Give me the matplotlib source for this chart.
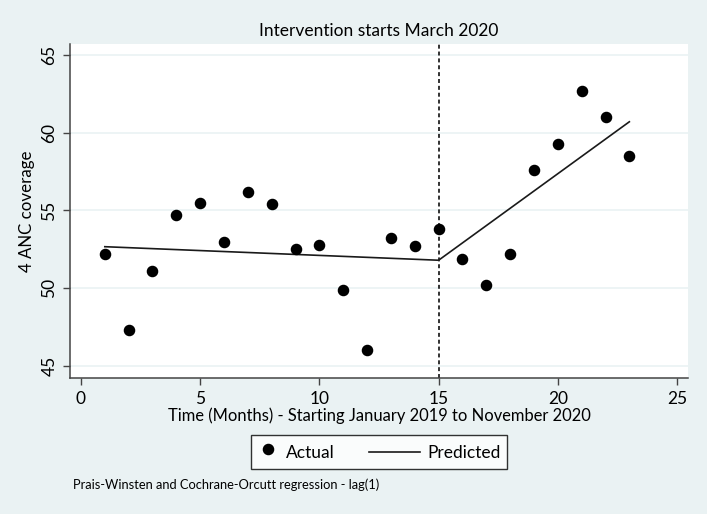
import matplotlib.pyplot as plt
from matplotlib.lines import Line2D
from matplotlib.legend_handler import HandlerLine2D

plt.rcParams['font.family'] = ['Lato', 'DejaVu Sans']

# Actual monthly values (Jan 2019 - Nov 2020)
months = list(range(1, 24))
actual = [52.2, 47.3, 51.1, 54.7, 55.5, 53.0, 56.2, 55.4, 52.5, 52.8, 49.9, 46.05,
          53.2, 52.7, 53.8, 51.9, 50.2, 52.2, 57.6, 59.3, 62.7, 61.0, 58.5]

# Predicted segments (pre / post intervention)
pred_x = [1, 15, 23]
pred_y = [52.67, 51.8, 60.7]

intervention = 15
xticks = [0, 5, 10, 15, 20, 25]
yticks = [45, 50, 55, 60, 65]


class LongLine(HandlerLine2D):
    # legend line that reaches further left than the handle box
    def create_artists(self, legend, orig_handle, xdescent, ydescent,
                       width, height, fontsize, trans):
        y = height / 2 - ydescent
        ln = Line2D([-xdescent - 1.7 * fontsize, width - xdescent], [y, y])
        self.update_prop(ln, orig_handle, legend)
        ln.set_transform(trans)
        return [ln]


bg = '#EAF2F3'
W, H = 707, 514
fig = plt.figure(figsize=(W / 100, H / 100), dpi=100, facecolor=bg)
ax = fig.add_axes([70 / W, 1 - 378 / H, (688 - 70) / W, (378 - 44) / H])
ax.set_facecolor('white')

ax.set_xlim(-0.46, 25.46)
ax.set_ylim(44.23, 65.7)
ax.set_xticks(xticks)
ax.set_yticks(yticks)
ax.grid(axis='y', color=bg, linewidth=1.2)
ax.set_axisbelow(True)

for s in ['top', 'right']:
    ax.spines[s].set_visible(False)
for s in ['left', 'bottom']:
    ax.spines[s].set_color('#444444')
    ax.spines[s].set_linewidth(1.1)

ax.tick_params(direction='out', length=5, width=1, color='#444444', labelsize=12.5, pad=4)
plt.setp(ax.get_yticklabels(), rotation=90, va='center')

ax.axvline(intervention, color='#222222', linestyle=(0, (2.2, 1.6)), linewidth=1.3, zorder=2)
ax.plot(pred_x, pred_y, color='#1a1a1a', linewidth=1.2, zorder=3)
ax.plot(months, actual, 'o', color='black', markersize=7.3, zorder=4)

ax.set_title('Intervention starts March 2020', fontsize=12.5, pad=6)
ax.set_ylabel('4 ANC coverage', fontsize=12.2, labelpad=5)
ax.set_xlabel('Time (Months) - Starting January 2019 to November 2020', fontsize=11.9, labelpad=1)

h_act = Line2D([], [], marker='o', linestyle='none', color='black', markersize=7.3)
h_pred = Line2D([], [], color='#1a1a1a', linewidth=1.2)
leg = fig.legend([h_act, h_pred], ['Actual', 'Predicted'], ncol=2, loc='center',
                 bbox_to_anchor=(379 / W, 1 - 452 / H), frameon=True, fancybox=False,
                 fontsize=12.5, handlelength=1.2, handleheight=1.6, columnspacing=3.7,
                 handletextpad=0.45, borderpad=0.33, borderaxespad=0,
                 handler_map={h_pred: LongLine()})
leg.get_frame().set_edgecolor('black')
leg.get_frame().set_linewidth(1)

fig.text(73 / W, 1 - 485 / H, 'Prais-Winsten and Cochrane-Orcutt regression - lag(1)',
         fontsize=9.3, va='center', ha='left')

fig.savefig('out.png', dpi=100, facecolor=bg)
